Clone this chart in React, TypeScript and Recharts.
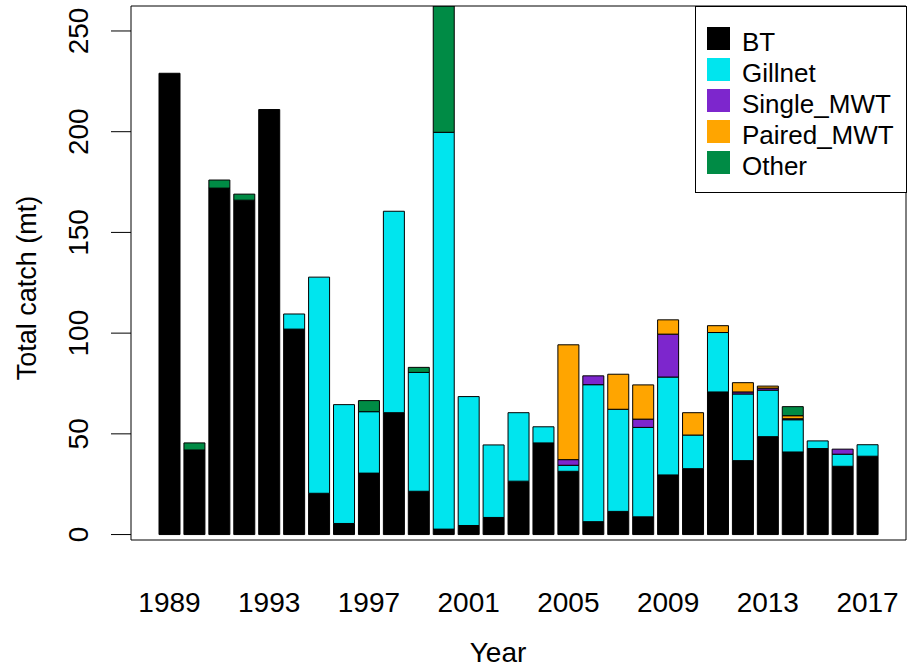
import React from "react";
import { BarChart, Bar, XAxis, YAxis, Legend, Label } from "recharts";

const years = [
  "1989", "1990", "1991", "1992", "1993", "1994", "1995", "1996", "1997", "1998",
  "1999", "2000", "2001", "2002", "2003", "2004", "2005", "2006", "2007", "2008",
  "2009", "2010", "2011", "2012", "2013", "2014", "2015", "2016", "2017",
];
const bt = [229, 42, 172, 166, 211, 102, 20.5, 5.5, 30.5, 60.5, 21.5, 2.7, 4.5, 8.5, 26.5, 45.5, 31.4, 6.4, 11.5, 8.8, 29.6, 32.7, 70.8, 36.7, 48.6, 41, 42.7, 33.9, 38.9];
const gillnet = [0, 0, 0, 0, 0, 7.5, 107.3, 59, 30.5, 100, 59, 197, 64, 36, 34, 8, 3, 68, 50.7, 44.4, 48.6, 16.7, 29.5, 33.1, 23.1, 16, 3.8, 6, 5.7];
const singleMwt = [0, 0, 0, 0, 0, 0, 0, 0, 0, 0, 0, 0, 0, 0, 0, 0, 2.8, 4.4, 0, 4.1, 21.3, 0, 0, 1, 1, 0.5, 0, 2.5, 0];
const pairedMwt = [0, 0, 0, 0, 0, 0, 0, 0, 0, 0, 0, 0, 0, 0, 0, 0, 57, 0, 17.4, 17, 7.1, 11.1, 3.4, 4.6, 1, 1.5, 0, 0, 0];
const other = [0, 3.5, 4, 3, 0, 0, 0, 0, 5.5, 0, 2.5, 70, 0, 0, 0, 0, 0, 0, 0, 0, 0, 0, 0, 0, 0, 4.5, 0, 0, 0];

const seriesNames = ["BT", "Gillnet", "Single_MWT", "Paired_MWT", "Other"];
const seriesColors = ["#000000", "#00E5EE", "#7D26CD", "#FFA500", "#008B45"];
const yTicks = [0, 50, 100, 150, 200, 250];

const data = years.map((year, i) => ({
  year,
  BT: bt[i],
  Gillnet: gillnet[i],
  Single_MWT: singleMwt[i],
  Paired_MWT: pairedMwt[i],
  Other: other[i],
}));

const FONT = '"Liberation Sans", Arial, Helvetica, sans-serif';

const YTick = (props: any) => {
  const { y, payload } = props;
  return (
    <text
      x={88}
      y={y}
      transform={`rotate(-90, 88, ${y})`}
      textAnchor="middle"
      fontSize={28}
      fontFamily={FONT}
      fill="#000"
    >
      {payload.value}
    </text>
  );
};

const XTick = (props: any) => {
  const { x, payload } = props;
  return (
    <text x={x} y={612} textAnchor="middle" fontSize={28} fontFamily={FONT} fill="#000">
      {payload.value}
    </text>
  );
};

const LegendBox = () => (
  <svg width={213} height={188} style={{ display: "block" }}>
    <rect x={0.5} y={0.5} width={211} height={186} fill="#fff" stroke="#000" strokeWidth={1} />
    {seriesNames.map((name, i) => (
      <g key={name}>
        <rect x={12} y={21 + i * 31} width={23} height={23} fill={seriesColors[i]} />
        <text x={47} y={45 + i * 31} fontSize={26} fontFamily={FONT} fill="#000">
          {name}
        </text>
      </g>
    ))}
  </svg>
);

export default function App() {
  return (
    <div style={{ position: "absolute", left: 0, top: 0, width: 907, height: 671, background: "#fff" }}>
      <BarChart
        width={907}
        height={671}
        data={data}
        margin={{ top: 5, right: 0, bottom: 0, left: 0 }}
        barSize={21}
      >
        <XAxis
          dataKey="year"
          interval={3}
          tickLine={false}
          axisLine={{ stroke: "#000", strokeWidth: 1 }}
          height={131}
          padding={{ left: 26, right: 26 }}
          tick={<XTick />}
        >
          <Label
            content={() => (
              <text x={498} y={662} textAnchor="middle" fontSize={28} fontFamily={FONT} fill="#000">
                Year
              </text>
            )}
          />
        </XAxis>
        <XAxis
          xAxisId="top"
          orientation="top"
          dataKey="year"
          height={1}
          tick={false}
          tickLine={false}
          axisLine={{ stroke: "#000", strokeWidth: 1 }}
        />
        <YAxis
          width={131}
          domain={[-2.7, 262.4]}
          ticks={yTicks}
          allowDataOverflow
          tickSize={20}
          tickLine={{ stroke: "#000", strokeWidth: 1 }}
          axisLine={{ stroke: "#000", strokeWidth: 1 }}
          tick={<YTick />}
        >
          <Label
            content={() => (
              <text
                x={36}
                y={288}
                transform="rotate(-90, 36, 288)"
                textAnchor="middle"
                fontSize={27}
                fontFamily={FONT}
                fill="#000"
              >
                Total catch (mt)
              </text>
            )}
          />
        </YAxis>
        <YAxis
          yAxisId="right"
          orientation="right"
          width={1}
          domain={[0, 1]}
          tick={false}
          tickLine={false}
          axisLine={{ stroke: "#000", strokeWidth: 1 }}
        />
        {seriesNames.map((name, i) => (
          <Bar
            key={name}
            dataKey={name}
            name={name}
            stackId="a"
            fill={seriesColors[i]}
            stroke="#000"
            strokeWidth={1}
            isAnimationActive={false}
          />
        ))}
        <Legend
          layout="vertical"
          align="center"
          verticalAlign="middle"
          content={() => <LegendBox />}
          wrapperStyle={{ position: "absolute", left: 695, top: 6, width: 213, height: 188 }}
        />
      </BarChart>
    </div>
  );
}
